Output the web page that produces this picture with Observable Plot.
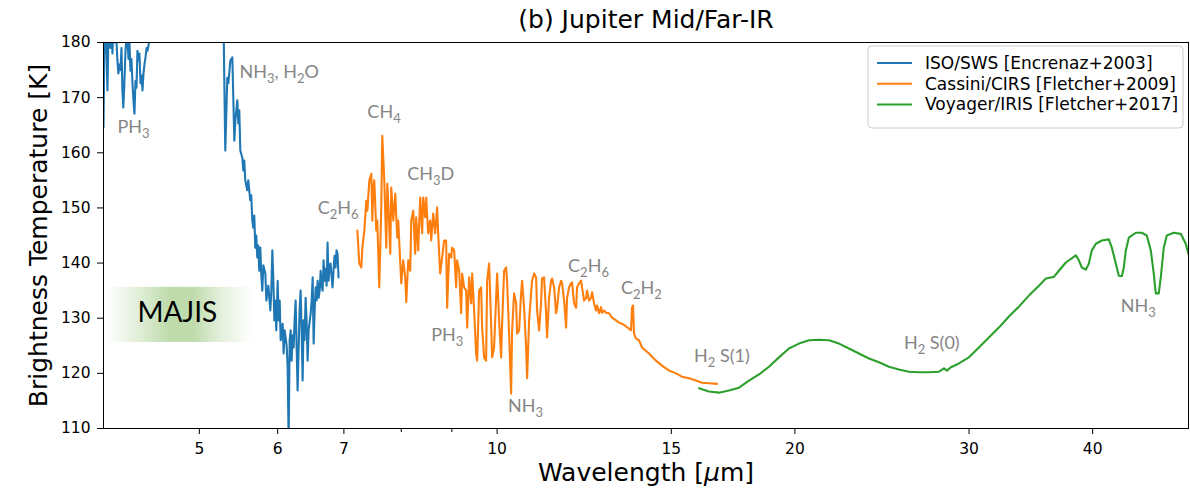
<!DOCTYPE html>
<html><head><meta charset="utf-8">
<script src="https://cdn.jsdelivr.net/npm/d3@7"></script>
<script src="https://cdn.jsdelivr.net/npm/@observablehq/plot@0.6"></script>
<style>body{margin:0;background:#fff;} svg{display:block}</style>
</head><body>
<script>
// ---------- data ----------
const seriesNames = ["ISO/SWS [Encrenaz+2003]", "Cassini/CIRS [Fletcher+2009]", "Voyager/IRIS [Fletcher+2017]"];
const seriesColors = ["#1f77b4", "#ff7f0e", "#2ca02c"];
const xTicks = [5, 6, 7, 10, 15, 20, 30, 40];
const xMinorTicks = [8, 9];
const yTicks = [110, 120, 130, 140, 150, 160, 170, 180];

// ISO/SWS: [wavelength µm, brightness temperature K]
const isoSpectrum = [
[4.000,164.6],[4.009,181],[4.019,186],[4.028,178],[4.037,171.3],[4.047,182],[4.056,184],[4.065,179],[4.075,185],[4.084,178],
[4.094,183],[4.104,180],[4.113,184],[4.123,180],[4.132,176.7],[4.141,174.4],[4.151,176],[4.161,175],[4.171,179],[4.180,171.3],
[4.189,168.2],[4.199,172.6],[4.210,178.5],[4.220,181],[4.230,180],[4.240,177],[4.249,180],[4.259,174.9],[4.269,177],[4.279,172.6],
[4.289,169.5],[4.299,167.1],[4.309,173],[4.319,171.8],[4.329,178.5],[4.339,176.7],[4.349,178],[4.360,172.6],[4.370,174],[4.380,171.3],
[4.390,174.4],[4.400,176],[4.411,177.3],[4.421,179],[4.431,178.5],[4.442,179.5],[4.462,182],[4.55,205],[4.7,235],[4.9,250],
[5.05,248],[5.2,220],[5.287,186],
[5.311,160.4],[5.336,173.6],[5.349,172.6],[5.374,176.7],[5.399,177.3],[5.412,169.5],[5.424,162.2],[5.437,165.9],[5.462,169.5],[5.475,165.3],
[5.487,167.7],[5.500,160.4],[5.526,159.1],[5.538,156.8],[5.551,158.6],[5.564,155.0],[5.590,153.2],[5.603,155.0],[5.629,151.4],[5.642,152.3],
[5.656,147.7],[5.669,146.4],[5.682,148.6],[5.695,142.8],[5.708,145.0],[5.722,141.0],[5.735,143.2],[5.748,138.6],[5.762,142.8],[5.776,137.7],
[5.789,135.0],[5.803,139.6],[5.830,138.1],[5.844,133.2],[5.857,134.5],[5.871,135.9],[5.898,131.4],[5.912,135.0],[5.926,142.3],[5.940,136.8],
[5.954,129.6],[5.967,133.2],[5.981,127.8],[6.000,136.8],[6.014,129.6],[6.028,133.2],[6.042,126.0],[6.070,129.0],[6.084,123.6],[6.098,127.8],
[6.112,126.5],[6.127,125.0],[6.141,121.1],[6.155,108],[6.170,126.0],[6.184,127.8],[6.198,122.3],[6.213,126.9],[6.227,124.7],[6.241,129.6],
[6.256,133.2],[6.270,125.0],[6.285,116.9],[6.300,124.7],[6.314,131.4],[6.329,135.0],[6.344,127.8],[6.359,118.7],[6.373,129.6],[6.388,126.0],
[6.403,133.7],[6.418,129.6],[6.433,122.3],[6.448,127.8],[6.479,130.9],[6.494,133.2],[6.509,137.4],[6.524,125.4],[6.539,131.4],[6.555,135.6],
[6.570,133.2],[6.585,136.8],[6.600,133.7],[6.616,135.0],[6.631,138.6],[6.647,135.9],[6.662,135.0],[6.677,140.5],[6.693,136.8],[6.708,139.0],
[6.724,135.9],[6.739,143.7],[6.755,136.8],[6.770,139.6],[6.786,139.9],[6.802,137.7],[6.817,135.6],[6.833,138.6],[6.849,141.3],[6.865,139.2],
[6.881,142.3],[6.897,141.7],[6.913,137.4]
];

// Cassini/CIRS
const cirsSpectrum = [
[7.222,145.9],[7.256,139.9],[7.290,139.2],[7.307,142.8],[7.341,145.9],[7.375,151.3],[7.393,149.5],[7.427,155.0],[7.462,156.2],[7.479,147.7],
[7.496,153.7],[7.513,155.0],[7.548,145.9],[7.566,147.7],[7.601,135.6],[7.636,150.1],[7.654,163.1],[7.690,155.0],[7.726,142.8],[7.744,154.4],
[7.762,150.8],[7.798,141.7],[7.816,153.7],[7.853,147.7],[7.889,152.6],[7.926,144.6],[7.944,147.7],[7.982,139.9],[8.000,136.3],[8.037,140.5],
[8.075,137.4],[8.094,132.9],[8.131,140.5],[8.169,138.6],[8.188,147.7],[8.226,149.5],[8.264,141.7],[8.283,148.3],[8.322,142.3],[8.360,151.9],
[8.399,145.4],[8.419,151.9],[8.458,148.3],[8.478,151.9],[8.517,145.4],[8.557,147.7],[8.577,144.1],[8.617,149.0],[8.657,145.4],[8.697,150.1],
[8.718,145.4],[8.758,138.1],[8.808,141.7],[8.840,144.1],[8.881,144.1],[8.902,131.9],[8.943,141.7],[8.985,141.0],[9.006,142.8],[9.048,142.3],
[9.090,135.6],[9.111,140.5],[9.154,138.6],[9.197,130.9],[9.218,138.1],[9.261,135.6],[9.305,135.0],[9.327,128.3],[9.370,137.4],[9.414,132.7],
[9.436,138.1],[9.479,131.4],[9.523,123.6],[9.546,122.3],[9.590,135.0],[9.635,135.6],[9.657,128.3],[9.702,122.9],[9.747,122.3],[9.770,136.8],
[9.816,139.9],[9.862,129.0],[9.885,122.9],[9.930,124.7],[9.977,133.7],[10.000,138.1],[10.047,129.6],[10.094,122.9],[10.117,129.0],[10.164,138.6],
[10.211,139.2],[10.235,136.8],[10.283,127.2],[10.331,116.3],[10.355,127.8],[10.403,134.5],[10.452,132.7],[10.476,127.2],[10.525,127.8],[10.574,134.5],
[10.599,136.8],[10.648,131.9],[10.698,124.7],[10.723,119.1],[10.773,129.6],[10.823,134.5],[10.848,136.8],[10.899,138.1],[10.950,137.4],[10.975,131.4],
[11.026,127.8],[11.077,132.7],[11.103,137.2],[11.155,137.4],[11.207,130.9],[11.233,126.5],[11.286,133.7],[11.339,136.8],[11.365,137.2],[11.418,135.6],
[11.471,130.9],[11.498,131.9],[11.552,135.6],[11.606,136.8],[11.633,136.3],[11.687,133.2],[11.742,128.3],[11.769,133.7],[11.823,135.6],[11.878,136.3],
[11.906,136.5],[11.962,132.7],[12.018,131.9],[12.046,135.6],[12.102,136.3],[12.158,136.8],[12.187,135.6],[12.243,133.2],[12.300,133.7],[12.329,135.0],
[12.386,133.2],[12.444,133.7],[12.473,134.7],[12.531,132.7],[12.589,131.4],[12.619,132.3],[12.678,130.9],[12.737,132.0],[12.767,131.0],[12.826,131.4],
[12.886,131.0],[12.976,130.9],[13.067,130.1],[13.190,129.6],[13.281,129.2],[13.374,129.0],[13.499,128.5],[13.594,128.1],[13.658,127.8],[13.690,131.9],
[13.721,132.3],[13.753,127.2],[13.817,126.3],[13.914,126.0],[14.011,124.7],[14.242,123.6],[14.476,122.3],[14.679,121.4],[14.920,120.5],[15.165,120.0],
[15.378,119.4],[15.631,119.1],[15.887,118.7],[16.111,118.3],[16.376,118.2],[16.683,118.1]
];

// Voyager/IRIS
const irisSpectrum = [
[15.999,117.3],[16.376,116.7],[16.761,116.5],[17.156,116.9],[17.560,117.4],[17.973,118.7],[18.396,119.8],[18.829,121.2],[19.273,122.9],[19.726,124.5],
[20.191,125.4],[20.666,126.0],[21.153,126.1],[21.651,126.0],[22.161,125.4],[22.683,124.5],[23.217,123.6],[23.764,122.7],[24.323,122.0],[24.896,121.2],
[25.482,120.7],[26.082,120.3],[26.696,120.2],[27.325,120.2],[27.969,120.3],[28.296,120.9],[28.494,120.5],[28.760,121.1],[29.300,121.8],[29.990,122.9],
[30.696,124.7],[31.418,126.5],[32.158,128.3],[32.915,130.3],[33.690,132.1],[34.483,134.1],[35.295,135.9],[35.875,137.2],[36.295,137.4],[36.549,137.5],
[36.976,138.6],[37.583,140.1],[38.468,141.4],[38.737,140.5],[39.008,139.2],[39.373,138.8],[39.648,139.9],[39.926,142.3],[40.299,143.5],[40.865,144.1],
[41.536,144.3],[41.827,142.8],[42.218,139.9],[42.514,137.7],[42.811,137.6],[43.011,139.2],[43.212,142.3],[43.514,144.6],[44.228,145.5],[44.849,145.5],
[45.374,145.0],[45.797,142.3],[46.118,138.1],[46.333,134.5],[46.657,134.5],[46.875,137.4],[47.202,142.8],[47.532,145.0],[48.312,145.5],[49.105,145.3],
[49.679,143.5],[50.03,141.5]
];

// gas annotations (label, wavelength, temperature); "_n" marks a subscript
const annotationLabels = ["PH_3", "NH_3, H_2O", "CH_4", "CH_3D", "C_2H_6", "PH_3", "NH_3", "C_2H_6", "C_2H_2", "H_2 S(1)", "H_2 S(0)", "NH_3"];
const annotationWavelengths = [4.132, 5.490, 7.393, 8.113, 6.585, 8.577, 10.259, 11.796, 13.343, 15.814, 25.78, 42.71];
const annotationTemperatures = [164.6, 174.6, 167.3, 156.2, 149.9, 126.9, 114.0, 139.4, 135.4, 123.1, 125.4, 132.1];

// MAJIS coverage band
const majisBand = [{label: "MAJIS", x1: 4.02, x2: 5.66, y1: 125.6, y2: 135.6, lx: 4.75, ly: 131.0}];

// ---------- build ----------
const toRows = (arr) => arr.map(([w, t]) => ({w, t}));
const iso = toRows(isoSpectrum), cirs = toRows(cirsSpectrum), iris = toRows(irisSpectrum);
const annotations = annotationLabels.map((label, i) => ({label, w: annotationWavelengths[i], t: annotationTemperatures[i]}));

const W = 1190, H = 491, mL = 103, mR = 2, mT = 42, mB = 63;
const sansMpl = "DejaVu Sans";

const chart = Plot.plot({
  width: W, height: H,
  marginLeft: mL, marginRight: mR, marginTop: mT, marginBottom: mB,
  x: {type: "log", domain: [4, 50]},
  y: {domain: [110, 180]},
  style: {fontFamily: sansMpl, fontSize: "15.5px", color: "black", background: "white", overflow: "visible"},
  marks: [
    Plot.rect(majisBand, {x1: "x1", x2: "x2", y1: "y1", y2: "y2", fill: "url(#majisGradient)"}),
    Plot.text(majisBand, {x: "lx", y: "ly", text: "label", fontFamily: "Lato", fontSize: 28, fill: "black"}),
    Plot.line(iso, {x: "w", y: "t", stroke: seriesColors[0], strokeWidth: 2.1, clip: true}),
    Plot.line(cirs, {x: "w", y: "t", stroke: seriesColors[1], strokeWidth: 2.1, clip: true}),
    Plot.line(iris, {x: "w", y: "t", stroke: seriesColors[2], strokeWidth: 2.1, clip: true}),
    Plot.text(annotations, {x: "w", y: "t", text: "label", textAnchor: "start", fill: "#858585", fontFamily: "Lato", fontSize: 18}),
    Plot.axisX({ticks: xTicks, tickFormat: (d) => String(d), tickSize: 6, tickPadding: 8, label: null}),
    Plot.axisX({ticks: xMinorTicks, tickFormat: () => "", tickSize: 4, label: null}),
    Plot.axisY({ticks: yTicks, tickSize: 6, tickPadding: 7, label: null}),
    Plot.frame({stroke: "black"}),
    Plot.text(["(b) Jupiter Mid/Far-IR"], {frameAnchor: "top", dy: -23, text: (d) => d, fontSize: 25, lineAnchor: "middle", textAnchor: "middle"}),
    Plot.text(["Wavelength [μm]"], {frameAnchor: "bottom", dy: 44, text: (d) => d, fontSize: 25, lineAnchor: "middle", textAnchor: "middle"}),
    Plot.text(["Brightness Temperature [K]"], {frameAnchor: "left", dx: -65, rotate: -90, text: (d) => d, fontSize: 25, lineAnchor: "middle", textAnchor: "middle"})
  ]
});
document.body.appendChild(chart);

// ---------- post-processing ----------
const ns = "http://www.w3.org/2000/svg";
const svg = d3.select(chart);

// gradient for MAJIS band
const defs = svg.insert("defs", ":first-child");
const grad = defs.append("linearGradient").attr("id", "majisGradient").attr("x1", "0").attr("x2", "1").attr("y1", "0").attr("y2", "0");
[[0, 0], [0.2, 0.35], [0.45, 0.9], [0.6, 0.85], [0.8, 0.35], [1, 0]].forEach(([o, a]) =>
  grad.append("stop").attr("offset", o).attr("stop-color", "#b5d69f").attr("stop-opacity", a));

// subscripts
svg.selectAll("text").each(function () {
  const raw = this.textContent;
  if (!raw.includes("_")) return;
  const parts = raw.split(/_(\d)/);
  this.textContent = "";
  let shifted = false;
  parts.forEach((p, i) => {
    if (p === "") return;
    const t = document.createElementNS(ns, "tspan");
    if (i % 2) { t.setAttribute("font-size", "13"); t.setAttribute("dy", "5"); shifted = true; }
    else if (shifted) { t.setAttribute("dy", "-5"); shifted = false; }
    t.textContent = p;
    this.appendChild(t);
  });
});

// italic mu
svg.selectAll("text").each(function () {
  if (this.textContent !== "Wavelength [μm]") return;
  this.textContent = "";
  [["Wavelength [", null], ["μ", "italic"], ["m]", null]].forEach(([s, st]) => {
    const t = document.createElementNS(ns, "tspan");
    if (st) t.setAttribute("font-style", st);
    t.textContent = s;
    this.appendChild(t);
  });
});

// legend
const lg = svg.append("g").attr("font-family", sansMpl).attr("font-size", 17).attr("text-anchor", "start");
const lgRight = W - mR - 5, lgTop = mT + 4, lgW = 315, lgH = 82;
lg.append("rect").attr("x", lgRight - lgW).attr("y", lgTop).attr("width", lgW).attr("height", lgH)
  .attr("rx", 4).attr("fill", "white").attr("fill-opacity", 0.8).attr("stroke", "#cccccc");
seriesNames.forEach((name, i) => {
  const cy = lgTop + 17 + i * 20.7;
  lg.append("line").attr("x1", lgRight - lgW + 9).attr("x2", lgRight - lgW + 44).attr("y1", cy).attr("y2", cy)
    .attr("stroke", seriesColors[i]).attr("stroke-width", 2);
  lg.append("text").attr("x", lgRight - lgW + 57).attr("y", cy).attr("dy", "0.35em").attr("text-anchor", "start").attr("fill", "black").text(name);
});
</script>
</body></html>
